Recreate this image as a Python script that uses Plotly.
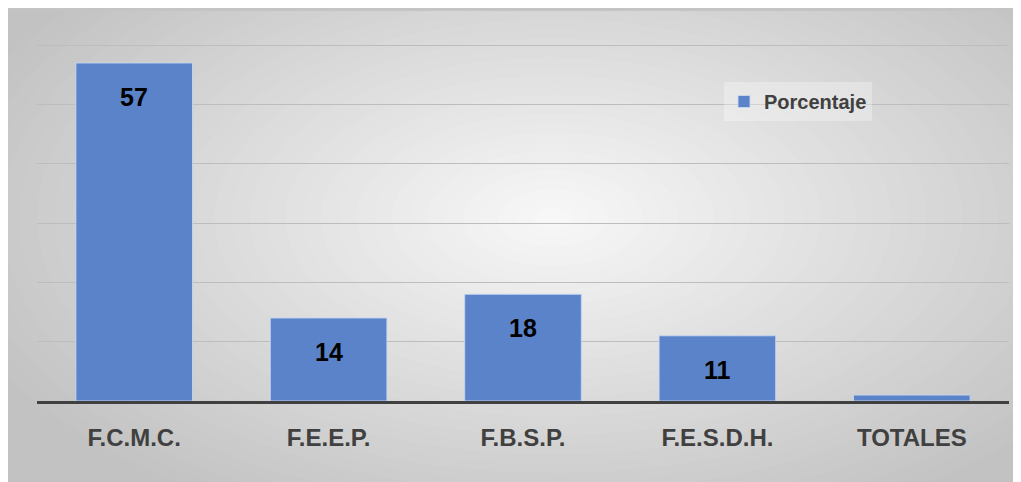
import plotly.graph_objects as go

# data
categorias = ["F.C.M.C.", "F.E.E.P.", "F.B.S.P.", "F.E.S.D.H.", "TOTALES"]
porcentaje = [57, 14, 18, 11, 1]
etiquetas = ["57", "14", "18", "11", ""]

FONT = "Liberation Sans, Arial, sans-serif"
W, H = 1013, 474
# plot area in figure pixels
L, R, T, B = 29, 1001, 36, 393


def px(x):
    return (x - L) / (R - L)


def py(y):
    return (B - y) / (B - T)


fig = go.Figure()
fig.add_trace(go.Bar(
    x=categorias, y=porcentaje, name="Porcentaje",
    marker=dict(color="#5b83c9", line=dict(color="rgba(200,215,240,0.9)", width=1)),
))

# value labels inside the bars, near the top
for c, v, t in zip(categorias, porcentaje, etiquetas):
    if t:
        fig.add_annotation(x=c, y=v, text=t, showarrow=False, yanchor="middle",
                           yshift=-34, font=dict(family=FONT, size=25, color="#000000", weight="bold"))

# radial gray background (styling only)
shapes = [dict(type="rect", xref="paper", yref="paper", x0=px(-20), x1=px(W + 20),
               y0=py(H + 20), y1=py(-20), fillcolor="#c2c2c2", line_width=0, layer="below")]
n = 36
cx, cy = 545, 210
rx, ry = 640, 340
c0, c1 = 194, 247
for i in range(n):
    t = i / (n - 1)
    g = int(round(c0 + (c1 - c0) * t))
    sx, sy = rx * (1 - t * 0.97), ry * (1 - t * 0.97)
    shapes.append(dict(type="circle", xref="paper", yref="paper",
                       x0=px(cx - sx), x1=px(cx + sx), y0=py(cy + sy), y1=py(cy - sy),
                       fillcolor="rgb(%d,%d,%d)" % (g, g, g), line_width=0, layer="below"))
# thin border line at the top
shapes.append(dict(type="line", xref="paper", yref="paper", x0=px(0), x1=px(W),
                   y0=py(1.5), y1=py(1.5), line=dict(color="#c4c4c4", width=3), layer="below"))

fig.update_layout(
    width=W, height=H,
    margin=dict(l=L, r=W - R, t=T, b=H - B),
    paper_bgcolor="#c2c2c2", plot_bgcolor="rgba(0,0,0,0)",
    bargap=0.4,
    shapes=shapes,
    showlegend=True,
    legend=dict(x=px(716), y=py(74), xanchor="left", yanchor="top",
                bgcolor="rgba(255,255,255,0.3)", itemwidth=30,
                font=dict(family=FONT, size=20, color="#404040", weight="bold")),
    xaxis=dict(showline=True, linecolor="#404040", linewidth=3, ticks="",
               tickfont=dict(family=FONT, size=24, color="#404040", weight="bold"),
               ticklabelstandoff=13),
    yaxis=dict(range=[0, 60.2], tickvals=[10, 20, 30, 40, 50, 60], showticklabels=False,
               gridcolor="#bdbdbd", gridwidth=1, zeroline=False),
)

fig.write_html("out.html")
